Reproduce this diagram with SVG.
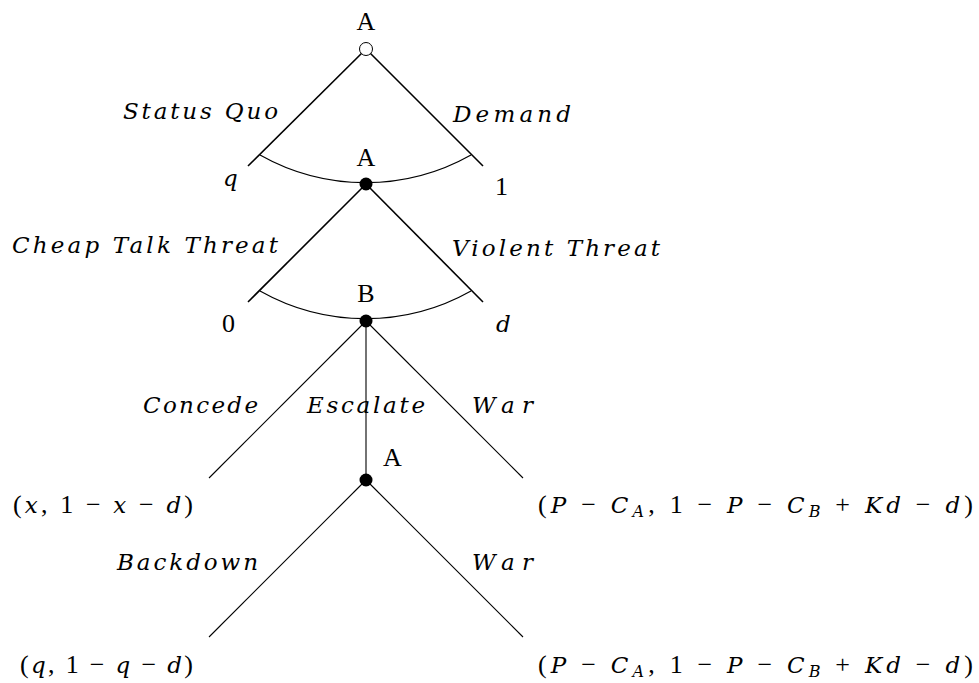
<svg xmlns="http://www.w3.org/2000/svg" width="979" height="683" viewBox="0 0 979 683">
<style>
text{font-family:"Liberation Serif","DejaVu Serif",serif;font-size:26px;fill:#000}
.i{font-family:"DejaVu Serif","Liberation Serif",serif;font-style:italic;font-size:23px}
.sub{font-family:"DejaVu Serif","Liberation Serif",serif;font-size:16px;font-style:italic}
.thick{stroke:#000;stroke-width:1.6;fill:none}
.thin{stroke:#000;stroke-width:1.1;fill:none}
</style>
<rect width="979" height="683" fill="#fff"/>
<g id="connectors">
<line class="thick" x1="366" y1="49" x2="248" y2="166"/>
<line class="thick" x1="366" y1="49" x2="483" y2="166"/>
<path class="thin" d="M260,155 A215,215 0 0 0 471,155"/>
<line class="thick" x1="366" y1="184" x2="248" y2="302"/>
<line class="thick" x1="366" y1="184" x2="483" y2="302"/>
<path class="thin" d="M260,291 A215,215 0 0 0 471,291"/>
<line class="thin" x1="366" y1="321" x2="209" y2="478"/>
<line class="thin" x1="366" y1="321" x2="366" y2="480"/>
<line class="thin" x1="366" y1="321" x2="523" y2="478"/>
<line class="thin" x1="366" y1="480" x2="209" y2="637"/>
<line class="thin" x1="366" y1="480" x2="523" y2="637"/>
</g>
<g id="node-root">
<circle cx="366" cy="49" r="6.5" fill="#fff" stroke="#000" stroke-width="1"/>
<text x="366" y="30" text-anchor="middle">A</text>
</g>
<g id="node-a2">
<circle cx="366" cy="184" r="6.5" fill="#000"/>
<text x="366" y="166" text-anchor="middle">A</text>
</g>
<g id="node-b">
<circle cx="366" cy="321" r="6.5" fill="#000"/>
<text x="366" y="302" text-anchor="middle">B</text>
</g>
<g id="node-a3">
<circle cx="366" cy="480" r="6.5" fill="#000"/>
<text x="383" y="466">A</text>
</g>
<g id="labels">
<text class="i" x="123" y="119" textLength="155" lengthAdjust="spacing">Status Quo</text>
<text class="i" x="453" y="122" textLength="118" lengthAdjust="spacing">Demand</text>
<text class="i" x="223" y="186">q</text>
<text x="495" y="195">1</text>
<text class="i" x="12" y="253" textLength="266" lengthAdjust="spacing">Cheap Talk Threat</text>
<text class="i" x="452" y="256" textLength="208" lengthAdjust="spacing">Violent Threat</text>
<text x="222" y="332">0</text>
<text class="i" x="496" y="332">d</text>
<text class="i" x="143" y="413" textLength="115" lengthAdjust="spacing">Concede</text>
<text class="i" x="307" y="413" textLength="118" lengthAdjust="spacing">Escalate</text>
<text class="i" x="472" y="413" textLength="61" lengthAdjust="spacing">War</text>
<text class="i" x="117" y="570" textLength="141" lengthAdjust="spacing">Backdown</text>
<text class="i" x="472" y="570" textLength="61" lengthAdjust="spacing">War</text>
</g>
<g id="payoffs">
<text x="13" y="513" textLength="180" lengthAdjust="spacing">(<tspan class="i">x</tspan>, 1 − <tspan class="i">x</tspan> − <tspan class="i">d</tspan>)</text>
<text x="538" y="513" textLength="435" lengthAdjust="spacing">(<tspan class="i">P</tspan> − <tspan class="i">C</tspan><tspan class="sub" dy="4">A</tspan><tspan dy="-4">, 1 − </tspan><tspan class="i">P</tspan> − <tspan class="i">C</tspan><tspan class="sub" dy="4">B</tspan><tspan dy="-4"> + </tspan><tspan class="i">Kd</tspan> − <tspan class="i">d</tspan>)</text>
<text x="20" y="673" textLength="173" lengthAdjust="spacing">(<tspan class="i">q</tspan>, 1 − <tspan class="i">q</tspan> − <tspan class="i">d</tspan>)</text>
<text x="538" y="673" textLength="435" lengthAdjust="spacing">(<tspan class="i">P</tspan> − <tspan class="i">C</tspan><tspan class="sub" dy="4">A</tspan><tspan dy="-4">, 1 − </tspan><tspan class="i">P</tspan> − <tspan class="i">C</tspan><tspan class="sub" dy="4">B</tspan><tspan dy="-4"> + </tspan><tspan class="i">Kd</tspan> − <tspan class="i">d</tspan>)</text>
</g>
</svg>
